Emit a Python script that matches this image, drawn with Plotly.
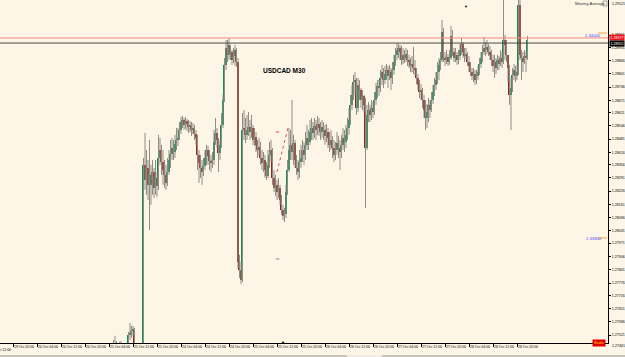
import plotly.graph_objects as go

# ---------------- data (USDCAD M30) ----------------
bar_index = list(range(83, 360))  # bar number, 0 = 19 Oct 12:00, one bar = 30 min

bar_open = [
    1.27424, 1.27448, 1.27438, 1.27448, 1.27424, 1.27438, 1.27448, 1.27433, 1.27419, 1.27428,
    1.27448, 1.27522, 1.27531, 1.27541, 1.27546, 1.27473, 1.27438, 1.27424, 1.27414, 1.27409,
    1.27399, 1.28355, 1.28281, 1.28340, 1.28257, 1.28306, 1.28257, 1.28320, 1.28242, 1.28291,
    1.28252, 1.28389, 1.28428, 1.28369, 1.28330, 1.28306, 1.28266, 1.28320, 1.28379, 1.28408,
    1.28438, 1.28418, 1.28457, 1.28477, 1.28487, 1.28526, 1.28565, 1.28575, 1.28551, 1.28570,
    1.28555, 1.28541, 1.28546, 1.28526, 1.28536, 1.28506, 1.28487, 1.28404, 1.28364, 1.28340,
    1.28320, 1.28350, 1.28389, 1.28428, 1.28399, 1.28374, 1.28364, 1.28379, 1.28467, 1.28511,
    1.28477, 1.28413, 1.28453, 1.28551, 1.28673, 1.28845, 1.28928, 1.28894, 1.28943, 1.28908,
    1.28869, 1.28889, 1.28918, 1.28859, 1.27879, 1.27840, 1.27791, 1.28526, 1.28536, 1.28502,
    1.28526, 1.28541, 1.28516, 1.28536, 1.28477, 1.28492, 1.28453, 1.28428, 1.28443, 1.28389,
    1.28364, 1.28379, 1.28330, 1.28301, 1.28355, 1.28404, 1.28428, 1.28291, 1.28242, 1.28257,
    1.28222, 1.28242, 1.28183, 1.28134, 1.28105, 1.28114, 1.28222, 1.28330, 1.28428, 1.28453,
    1.28418, 1.28462, 1.28379, 1.28340, 1.28320, 1.28369, 1.28389, 1.28428, 1.28404, 1.28453,
    1.28487, 1.28467, 1.28516, 1.28536, 1.28511, 1.28546, 1.28526, 1.28555, 1.28536, 1.28516,
    1.28541, 1.28526, 1.28497, 1.28516, 1.28487, 1.28453, 1.28477, 1.28438, 1.28404, 1.28428,
    1.28462, 1.28438, 1.28418, 1.28453, 1.28487, 1.28467, 1.28502, 1.28536, 1.28575, 1.28649,
    1.28698, 1.28761, 1.28771, 1.28634, 1.28747, 1.28722, 1.28673, 1.28693, 1.28649, 1.28438,
    1.28600, 1.28624, 1.28600, 1.28634, 1.28614, 1.28673, 1.28712, 1.28742, 1.28732, 1.28781,
    1.28810, 1.28771, 1.28800, 1.28820, 1.28791, 1.28810, 1.28781, 1.28820, 1.28859, 1.28894,
    1.28918, 1.28928, 1.28908, 1.28869, 1.28894, 1.28879, 1.28898, 1.28869, 1.28859, 1.28840,
    1.28849, 1.28830, 1.28820, 1.28781, 1.28747, 1.28712, 1.28722, 1.28673, 1.28624, 1.28585,
    1.28614, 1.28649, 1.28624, 1.28673, 1.28712, 1.28747, 1.28771, 1.28810, 1.28845, 1.28869,
    1.29006, 1.28879, 1.28869, 1.28884, 1.28859, 1.28879, 1.28987, 1.28908, 1.28879, 1.28894,
    1.28869, 1.28889, 1.28918, 1.28947, 1.28908, 1.28889, 1.28898, 1.28859, 1.28840, 1.28810,
    1.28791, 1.28800, 1.28771, 1.28791, 1.28810, 1.28849, 1.28879, 1.28908, 1.28928, 1.28918,
    1.28933, 1.28908, 1.28894, 1.28869, 1.28840, 1.28859, 1.28830, 1.28869, 1.28849, 1.28879,
    1.28859, 1.28967, 1.28943, 1.28894, 1.28830, 1.28698, 1.28732, 1.28796, 1.28820, 1.28791,
    1.28810, 1.29139, 1.28894, 1.28879, 1.28859, 1.28889, 1.28879,
]

bar_high = [
    1.27497, 1.27517, 1.27492, 1.27458, 1.27487, 1.27492, 1.27482, 1.27458, 1.27463, 1.27477,
    1.27536, 1.27580, 1.27566, 1.27566, 1.27556, 1.27473, 1.27448, 1.27438, 1.27448, 1.27438,
    1.28389, 1.28511, 1.28428, 1.28379, 1.28477, 1.28355, 1.28379, 1.28340, 1.28379, 1.28320,
    1.28502, 1.28487, 1.28453, 1.28428, 1.28379, 1.28355, 1.28389, 1.28428, 1.28477, 1.28487,
    1.28477, 1.28502, 1.28536, 1.28536, 1.28565, 1.28590, 1.28595, 1.28585, 1.28590, 1.28580,
    1.28575, 1.28570, 1.28565, 1.28560, 1.28551, 1.28526, 1.28502, 1.28428, 1.28404, 1.28379,
    1.28389, 1.28428, 1.28453, 1.28448, 1.28428, 1.28404, 1.28418, 1.28526, 1.28585, 1.28536,
    1.28487, 1.28477, 1.28609, 1.28698, 1.28879, 1.28967, 1.28967, 1.28977, 1.28943, 1.28918,
    1.28928, 1.28943, 1.28928, 1.28879, 1.27914, 1.27879, 1.28609, 1.28624, 1.28585, 1.28600,
    1.28614, 1.28575, 1.28600, 1.28551, 1.28536, 1.28516, 1.28477, 1.28487, 1.28467, 1.28428,
    1.28418, 1.28404, 1.28369, 1.28428, 1.28467, 1.28477, 1.28438, 1.28330, 1.28306, 1.28281,
    1.28291, 1.28257, 1.28208, 1.28159, 1.28144, 1.28257, 1.28379, 1.28536, 1.28526, 1.28673,
    1.28502, 1.28477, 1.28404, 1.28379, 1.28428, 1.28453, 1.28477, 1.28467, 1.28516, 1.28551,
    1.28526, 1.28575, 1.28585, 1.28565, 1.28585, 1.28575, 1.28595, 1.28585, 1.28565, 1.28575,
    1.28565, 1.28551, 1.28555, 1.28536, 1.28516, 1.28526, 1.28497, 1.28477, 1.28467, 1.28516,
    1.28497, 1.28477, 1.28502, 1.28536, 1.28526, 1.28551, 1.28585, 1.28634, 1.28698, 1.28747,
    1.28796, 1.28810, 1.28781, 1.28781, 1.28771, 1.28732, 1.28722, 1.28698, 1.28683, 1.28649,
    1.28663, 1.28649, 1.28673, 1.28663, 1.28712, 1.28756, 1.28771, 1.28771, 1.28820, 1.28845,
    1.28830, 1.28840, 1.28849, 1.28840, 1.28845, 1.28830, 1.28859, 1.28894, 1.28928, 1.28952,
    1.28947, 1.28943, 1.28938, 1.28928, 1.28918, 1.28928, 1.28918, 1.28894, 1.28879, 1.28889,
    1.28933, 1.28869, 1.28830, 1.28800, 1.28771, 1.28751, 1.28732, 1.28698, 1.28673, 1.28653,
    1.28683, 1.28673, 1.28712, 1.28747, 1.28781, 1.28810, 1.28859, 1.28879, 1.28908, 1.29065,
    1.29026, 1.28908, 1.28918, 1.28898, 1.28918, 1.29036, 1.29016, 1.28928, 1.28928, 1.28908,
    1.28918, 1.28947, 1.28977, 1.28957, 1.28928, 1.28928, 1.28908, 1.28889, 1.28859, 1.28830,
    1.28830, 1.28820, 1.28820, 1.28840, 1.28879, 1.28908, 1.28943, 1.28982, 1.28957, 1.28967,
    1.28947, 1.28938, 1.28918, 1.28894, 1.28894, 1.28879, 1.28894, 1.28889, 1.28918, 1.28908,
    1.29202, 1.28992, 1.28967, 1.28894, 1.28845, 1.28781, 1.28830, 1.28849, 1.28840, 1.28845,
    1.29212, 1.29188, 1.28918, 1.28908, 1.28918, 1.28908, 1.28987,
]

bar_low = [
    1.27399, 1.27389, 1.27409, 1.27389, 1.27399, 1.27409, 1.27399, 1.27389, 1.27399, 1.27409,
    1.27438, 1.27497, 1.27507, 1.27517, 1.27448, 1.27399, 1.27389, 1.27379, 1.27370, 1.27360,
    1.27389, 1.28232, 1.28208, 1.28183, 1.28036, 1.28159, 1.28208, 1.28193, 1.28208, 1.28198,
    1.28232, 1.28355, 1.28306, 1.28257, 1.28242, 1.28232, 1.28252, 1.28306, 1.28340, 1.28379,
    1.28379, 1.28389, 1.28428, 1.28448, 1.28477, 1.28506, 1.28536, 1.28526, 1.28531, 1.28521,
    1.28511, 1.28516, 1.28497, 1.28506, 1.28477, 1.28453, 1.28330, 1.28266, 1.28291, 1.28257,
    1.28301, 1.28330, 1.28355, 1.28355, 1.28330, 1.28320, 1.28340, 1.28355, 1.28453, 1.28438,
    1.28320, 1.28379, 1.28438, 1.28536, 1.28663, 1.28820, 1.28859, 1.28869, 1.28869, 1.28845,
    1.28854, 1.28840, 1.28835, 1.27850, 1.27801, 1.27771, 1.27781, 1.28477, 1.28462, 1.28477,
    1.28497, 1.28477, 1.28487, 1.28453, 1.28448, 1.28418, 1.28389, 1.28399, 1.28355, 1.28330,
    1.28320, 1.28291, 1.28281, 1.28291, 1.28340, 1.28369, 1.28257, 1.28222, 1.28203, 1.28183,
    1.28193, 1.28159, 1.28110, 1.28085, 1.28075, 1.28095, 1.28208, 1.28320, 1.28379, 1.28379,
    1.28355, 1.28340, 1.28306, 1.28281, 1.28291, 1.28340, 1.28369, 1.28355, 1.28379, 1.28428,
    1.28428, 1.28453, 1.28477, 1.28477, 1.28487, 1.28477, 1.28502, 1.28497, 1.28477, 1.28487,
    1.28477, 1.28453, 1.28467, 1.28438, 1.28418, 1.28428, 1.28389, 1.28369, 1.28379, 1.28404,
    1.28389, 1.28330, 1.28389, 1.28428, 1.28418, 1.28438, 1.28477, 1.28502, 1.28551, 1.28624,
    1.28673, 1.28698, 1.28600, 1.28614, 1.28673, 1.28634, 1.28624, 1.28614, 1.28144, 1.28428,
    1.28565, 1.28565, 1.28575, 1.28585, 1.28600, 1.28649, 1.28683, 1.28693, 1.28712, 1.28747,
    1.28732, 1.28751, 1.28771, 1.28732, 1.28771, 1.28722, 1.28751, 1.28796, 1.28840, 1.28869,
    1.28879, 1.28869, 1.28845, 1.28849, 1.28854, 1.28859, 1.28840, 1.28830, 1.28810, 1.28810,
    1.28800, 1.28791, 1.28751, 1.28722, 1.28683, 1.28673, 1.28634, 1.28585, 1.28526, 1.28536,
    1.28565, 1.28585, 1.28614, 1.28653, 1.28693, 1.28722, 1.28751, 1.28771, 1.28820, 1.28859,
    1.28859, 1.28840, 1.28849, 1.28840, 1.28845, 1.28869, 1.28889, 1.28859, 1.28859, 1.28845,
    1.28849, 1.28869, 1.28894, 1.28879, 1.28859, 1.28869, 1.28840, 1.28810, 1.28791, 1.28771,
    1.28761, 1.28747, 1.28751, 1.28771, 1.28796, 1.28830, 1.28859, 1.28894, 1.28889, 1.28898,
    1.28889, 1.28869, 1.28840, 1.28810, 1.28781, 1.28800, 1.28820, 1.28820, 1.28840, 1.28830,
    1.28849, 1.28869, 1.28859, 1.28761, 1.28649, 1.28526, 1.28712, 1.28771, 1.28761, 1.28771,
    1.28796, 1.28869, 1.28771, 1.28810, 1.28849, 1.28810, 1.28869,
]

bar_close = [
    1.27448, 1.27438, 1.27448, 1.27424, 1.27438, 1.27448, 1.27433, 1.27419, 1.27428, 1.27448,
    1.27522, 1.27531, 1.27541, 1.27546, 1.27473, 1.27438, 1.27424, 1.27414, 1.27409, 1.27399,
    1.28355, 1.28281, 1.28340, 1.28257, 1.28306, 1.28257, 1.28320, 1.28242, 1.28291, 1.28252,
    1.28389, 1.28428, 1.28369, 1.28330, 1.28306, 1.28266, 1.28320, 1.28379, 1.28408, 1.28438,
    1.28418, 1.28457, 1.28477, 1.28487, 1.28526, 1.28565, 1.28575, 1.28551, 1.28570, 1.28555,
    1.28541, 1.28546, 1.28526, 1.28536, 1.28506, 1.28487, 1.28404, 1.28364, 1.28340, 1.28320,
    1.28350, 1.28389, 1.28428, 1.28399, 1.28374, 1.28364, 1.28379, 1.28467, 1.28511, 1.28477,
    1.28413, 1.28453, 1.28551, 1.28673, 1.28845, 1.28928, 1.28894, 1.28943, 1.28908, 1.28869,
    1.28889, 1.28918, 1.28859, 1.27879, 1.27840, 1.27791, 1.28526, 1.28536, 1.28502, 1.28526,
    1.28541, 1.28516, 1.28536, 1.28477, 1.28492, 1.28453, 1.28428, 1.28443, 1.28389, 1.28364,
    1.28379, 1.28330, 1.28301, 1.28355, 1.28404, 1.28428, 1.28291, 1.28242, 1.28257, 1.28222,
    1.28242, 1.28183, 1.28134, 1.28105, 1.28114, 1.28222, 1.28330, 1.28428, 1.28453, 1.28418,
    1.28462, 1.28379, 1.28340, 1.28320, 1.28369, 1.28389, 1.28428, 1.28404, 1.28453, 1.28487,
    1.28467, 1.28516, 1.28536, 1.28511, 1.28546, 1.28526, 1.28555, 1.28536, 1.28516, 1.28541,
    1.28526, 1.28497, 1.28516, 1.28487, 1.28453, 1.28477, 1.28438, 1.28404, 1.28428, 1.28462,
    1.28438, 1.28418, 1.28453, 1.28487, 1.28467, 1.28502, 1.28536, 1.28575, 1.28649, 1.28698,
    1.28761, 1.28771, 1.28634, 1.28747, 1.28722, 1.28673, 1.28693, 1.28649, 1.28438, 1.28600,
    1.28624, 1.28600, 1.28634, 1.28614, 1.28673, 1.28712, 1.28742, 1.28732, 1.28781, 1.28810,
    1.28771, 1.28800, 1.28820, 1.28791, 1.28810, 1.28781, 1.28820, 1.28859, 1.28894, 1.28918,
    1.28928, 1.28908, 1.28869, 1.28894, 1.28879, 1.28898, 1.28869, 1.28859, 1.28840, 1.28849,
    1.28830, 1.28820, 1.28781, 1.28747, 1.28712, 1.28722, 1.28673, 1.28624, 1.28585, 1.28614,
    1.28649, 1.28624, 1.28673, 1.28712, 1.28747, 1.28771, 1.28810, 1.28845, 1.28869, 1.29006,
    1.28879, 1.28869, 1.28884, 1.28859, 1.28879, 1.28987, 1.28908, 1.28879, 1.28894, 1.28869,
    1.28889, 1.28918, 1.28947, 1.28908, 1.28889, 1.28898, 1.28859, 1.28840, 1.28810, 1.28791,
    1.28800, 1.28771, 1.28791, 1.28810, 1.28849, 1.28879, 1.28908, 1.28928, 1.28918, 1.28933,
    1.28908, 1.28894, 1.28869, 1.28840, 1.28859, 1.28830, 1.28869, 1.28849, 1.28879, 1.28859,
    1.28967, 1.28943, 1.28894, 1.28830, 1.28698, 1.28732, 1.28796, 1.28820, 1.28791, 1.28810,
    1.29139, 1.28894, 1.28879, 1.28859, 1.28889, 1.28879, 1.28967,
]

time_tick_index = [16, 32, 48, 64, 80, 96, 112, 128, 144, 160, 176, 192, 208,
                   224, 240, 256, 272, 288, 304, 320, 336, 352]
time_tick_labels = ["19 Oct 20:00", "20 Oct 04:00", "20 Oct 12:00", "20 Oct 20:00",
                    "21 Oct 04:00", "21 Oct 12:00", "21 Oct 20:00", "24 Oct 04:00",
                    "24 Oct 12:00", "24 Oct 20:00", "25 Oct 04:00", "25 Oct 12:00",
                    "25 Oct 20:00", "26 Oct 04:00", "26 Oct 12:00", "26 Oct 20:00",
                    "27 Oct 04:00", "27 Oct 12:00", "27 Oct 20:00", "28 Oct 04:00",
                    "28 Oct 12:00", "28 Oct 20:00"]
first_time_label = "19 Oct 12:00"

price_tick_values = [1.27521, 1.27586, 1.27651, 1.27716, 1.27776, 1.27841, 1.27906, 1.27971,
                     1.28031, 1.28096, 1.28161, 1.28226, 1.28291, 1.28356, 1.28416, 1.28481,
                     1.28546, 1.28611, 1.28671, 1.28736, 1.28801, 1.28866, 1.28931, 1.28991]
price_tick_labels = ["%.5f" % v for v in price_tick_values]
top_price_label = "1.29121"
bottom_price_label = "1.27461"

ask_price = 1.28977
bid_price = 1.28952
level_labels = ["1.34000", "1.33800"]
level_prices = [1.28987, 1.27992]

# ---------------- figure ----------------
X_RANGE = [7.333, 412.667]
Y_RANGE = [1.27482, 1.29163]
PW, PH = 608.0, 343.0  # plot area in px
FONT = "Liberation Sans, Arial, sans-serif"
BG = "#fdf5e6"
BULL = "#0f8f58"
BEAR = "#9a2412"
WICK = "#918b84"


def px(xp):
    return xp / PW


def py(yp):
    return 1 - yp / PH


wick_x, wick_y = [], []
for i, h, l in zip(bar_index, bar_high, bar_low):
    wick_x += [i, i, None]
    wick_y += [l, h, None]

body_base = [min(o, c) for o, c in zip(bar_open, bar_close)]
body_size = [max(abs(c - o), 0.00003) for o, c in zip(bar_open, bar_close)]
body_color = [BULL if c >= o else BEAR for o, c in zip(bar_open, bar_close)]

fig = go.Figure()
fig.add_trace(go.Scatter(x=wick_x, y=wick_y, mode="lines",
                         line=dict(color=WICK, width=1), hoverinfo="skip",
                         showlegend=False))
fig.add_trace(go.Bar(x=bar_index, y=body_size, base=body_base, width=0.95,
                     marker=dict(color=body_color, line=dict(width=0)),
                     showlegend=False))

shapes = [
    dict(type="line", xref="paper", yref="y", x0=0, x1=1, y0=ask_price, y1=ask_price,
         line=dict(color="#f28a84", width=1)),
    dict(type="line", xref="paper", yref="y", x0=0, x1=1, y0=bid_price, y1=bid_price,
         line=dict(color="#4a4a4a", width=1)),
    # orange marks after the level texts
    dict(type="line", xref="paper", yref="y", x0=px(598), x1=px(607),
         y0=level_prices[0] + 0.00014, y1=level_prices[0] + 0.00014,
         line=dict(color="#f0a53c", width=1, dash="dash")),
    dict(type="line", xref="paper", yref="y", x0=px(598), x1=px(607),
         y0=level_prices[1] + 0.00005, y1=level_prices[1] + 0.00005,
         line=dict(color="#f0a53c", width=1, dash="dash")),
    # small drawing objects
    dict(type="line", xref="x", yref="y", x0=192, x1=199.3, y0=1.28320, y1=1.28536,
         line=dict(color="#e05050", width=1, dash="dot")),
    dict(type="line", xref="x", yref="y", x0=191.2, x1=193.4, y0=1.28516, y1=1.28516,
         line=dict(color="#e05050", width=1)),
    dict(type="line", xref="x", yref="y", x0=191.2, x1=193.4, y0=1.27894, y1=1.27894,
         line=dict(color="#8080c8", width=1)),
    # indicator icon next to "Moving Average"
    dict(type="rect", xref="paper", yref="paper", x0=px(603), x1=px(607), y0=py(6), y1=py(1),
         line=dict(color="#707070", width=0.6), fillcolor=BG),
    # bottom tab bar
    dict(type="rect", xref="paper", yref="paper", x0=0, x1=625 / PW, y0=py(357.5), y1=py(355),
         line=dict(width=0), fillcolor="#c9c5bd"),
    dict(type="rect", xref="paper", yref="paper", x0=px(347), x1=px(382), y0=py(357.5), y1=py(355),
         line=dict(width=0), fillcolor="#ecebe8"),
]

annotations = [
    dict(text="<b>USDCAD M30</b>", xref="paper", yref="paper", x=px(284), y=py(65),
         showarrow=False, font=dict(family=FONT, size=6.5, color="#000000")),
    dict(text="Moving Average", xref="paper", yref="paper", x=px(573), y=py(3.5),
         xanchor="left", yanchor="middle", showarrow=False,
         font=dict(family=FONT, size=4.2, color="#333333")),
    dict(text=level_labels[0], xref="paper", yref="y", x=px(583), y=level_prices[0],
         xanchor="left", yanchor="middle", showarrow=False,
         font=dict(family=FONT, size=4.2, color="#4646ff")),
    dict(text=level_labels[1], xref="paper", yref="y", x=px(584), y=level_prices[1],
         xanchor="left", yanchor="middle", showarrow=False,
         font=dict(family=FONT, size=4.2, color="#4646ff")),
    dict(text="%.5f" % ask_price, xref="paper", yref="y", x=px(609), y=ask_price,
         xanchor="left", yanchor="middle", showarrow=False, bgcolor="#e8101a",
         borderpad=0.5, font=dict(family=FONT, size=3.6, color="#ffffff")),
    dict(text="%.5f" % bid_price, xref="paper", yref="y", x=px(609), y=bid_price,
         xanchor="left", yanchor="middle", showarrow=False, bgcolor="#000000",
         borderpad=0.5, font=dict(family=FONT, size=3.6, color="#ffffff")),
    dict(text=top_price_label, xref="paper", yref="paper", x=px(610.5), y=py(4),
         xanchor="left", yanchor="middle", showarrow=False,
         font=dict(family=FONT, size=3.6, color="#000000")),
    dict(text=bottom_price_label, xref="paper", yref="paper", x=px(610.5), y=py(346.3),
         xanchor="left", yanchor="middle", showarrow=False,
         font=dict(family=FONT, size=3.6, color="#000000")),
    dict(text=first_time_label, xref="paper", yref="paper", x=px(-11), y=py(349.5),
         xanchor="left", yanchor="middle", showarrow=False,
         font=dict(family=FONT, size=3.5, color="#000000")),
    dict(text="Scale", xref="paper", yref="paper", x=px(599), y=py(343.3),
         xanchor="center", yanchor="middle", showarrow=False, bgcolor="#e00000",
         borderpad=1, font=dict(family=FONT, size=3.8, color="#ffe000")),
    dict(text="▲", xref="paper", yref="paper", x=px(283), y=py(346.5),
         showarrow=False, font=dict(family=FONT, size=4, color="#000000")),
    dict(text="▼", xref="paper", yref="paper", x=px(470), y=py(1.5),
         showarrow=False, font=dict(family=FONT, size=4, color="#000000")),
]

fig.update_layout(
    width=625, height=357,
    margin=dict(l=0, r=17, t=0, b=14, pad=0),
    paper_bgcolor=BG, plot_bgcolor=BG,
    barmode="overlay", bargap=0,
    showlegend=False,
    font=dict(family=FONT, size=4, color="#000000"),
    shapes=shapes,
    annotations=annotations,
    xaxis=dict(range=X_RANGE, tickmode="array", tickvals=time_tick_index,
               ticktext=time_tick_labels, ticks="outside", ticklen=3, tickwidth=1,
               tickcolor="#000000", ticklabelposition="outside right", tickangle=0,
               tickfont=dict(family=FONT, size=3.5, color="#000000"),
               showline=True, linecolor="#000000", linewidth=1,
               showgrid=False, zeroline=False, fixedrange=True),
    yaxis=dict(range=Y_RANGE, side="right", tickmode="array",
               tickvals=price_tick_values, ticktext=price_tick_labels,
               ticks="outside", ticklen=2, tickwidth=1, tickcolor="#000000",
               tickfont=dict(family=FONT, size=3.6, color="#000000"),
               showline=True, linecolor="#000000", linewidth=1,
               showgrid=False, zeroline=False, fixedrange=True),
)

fig.write_html("out.html")
